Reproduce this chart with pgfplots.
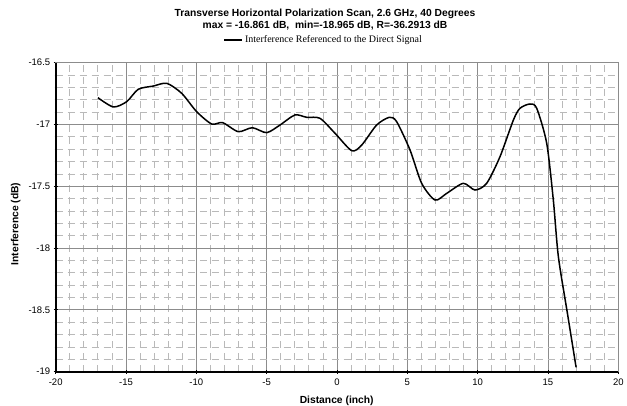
\documentclass[border=0pt]{standalone}
\usepackage{pgfplots}
\pgfplotsset{compat=1.18}
\usepackage{fontspec}
\setmainfont{Liberation Sans}
\newfontfamily\seriffont{Liberation Serif}
\definecolor{majgrid}{RGB}{140,140,140}
\definecolor{mingrid}{RGB}{185,185,185}
\begin{document}
\begin{tikzpicture}
\useasboundingbox (-55.7bp,-34.3bp) rectangle (571.3bp,371.7bp);
\begin{axis}[
  at={(0,0)}, anchor=south west,
  scale only axis,
  width=562.6bp, height=309bp,
  xmin=-20, xmax=20, ymin=-19, ymax=-16.5,
  xtick={-20,-15,...,20},
  ytick={-19,-18.5,...,-16.5},
  minor xtick={-20,-19,...,20},
  minor ytick={-19,-18.9,...,-16.5},
  grid=both,
  major grid style={majgrid, line width=0.8bp},
  minor grid style={mingrid, line width=0.8bp, dash pattern=on 7bp off 5bp},
  axis line style={majgrid, line width=0.8bp},
  tick style={black, line width=0.8bp},
  major tick length=4bp, minor tick length=2bp,
  xtick pos=bottom, ytick pos=left,
  tick align=center,
  /pgf/number format/assume math mode=true,
  yticklabel style={/pgf/number format/.cd, fixed, precision=1},
  ticklabel style={font=\fontsize{9.5bp}{11bp}\selectfont},
  xticklabel style={yshift=-2bp},
  legend style={at={(axis description cs:0.298,1.0735)}, anchor=west, draw=none, fill=none,
    font=\seriffont\fontsize{10bp}{12bp}\selectfont, inner sep=0pt},
  legend image code/.code={\draw[black, line width=1.5bp] (0bp,0bp) -- (18bp,0bp);},
  clip=false,
]
\addplot[black, line width=1.5bp, smooth, tension=0.45] coordinates {
(-17,-16.783) (-15.9,-16.858) (-14.95,-16.815) (-14.13,-16.715) (-13.06,-16.689)
(-12.1,-16.667) (-11.04,-16.748) (-9.98,-16.896) (-8.91,-16.996) (-8.13,-16.985)
(-7.02,-17.058) (-6.02,-17.026) (-5.0,-17.066) (-4.05,-17.004) (-2.99,-16.923)
(-2.15,-16.942) (-1.21,-16.95) (-0.14,-17.071) (1.05,-17.212) (1.76,-17.166)
(2.82,-17.004) (3.72,-16.942) (4.24,-16.977) (5.19,-17.206) (6.02,-17.476)
(6.97,-17.611) (7.8,-17.557) (8.98,-17.476) (9.81,-17.53) (10.64,-17.476)
(11.59,-17.26) (12.54,-16.964) (13.01,-16.869) (13.72,-16.834) (14.2,-16.869)
(14.91,-17.152) (15.38,-17.611) (15.74,-18.07) (16.4,-18.54) (17,-18.965)
};
\addlegendentry{Interference Referenced to the Direct Signal}
\draw[black, line width=1.6bp] (rel axis cs:0,1) -- (rel axis cs:0,0) -- (rel axis cs:1,0);
\end{axis}
\node[font=\bfseries\fontsize{10.3bp}{12bp}\selectfont] at (269.3bp,357.7bp) {Transverse Horizontal Polarization Scan, 2.6 GHz, 40 Degrees};
\node[font=\bfseries\fontsize{10.3bp}{12bp}\selectfont] at (269.3bp,346.2bp) {max = -16.861 dB,\ \ min=-18.965 dB, R=-36.2913 dB};
\node[font=\bfseries\fontsize{10.3bp}{12bp}\selectfont] at (281bp,-29.3bp) {Distance (inch)};
\node[font=\bfseries\fontsize{10.3bp}{12bp}\selectfont, rotate=90] at (-40bp,147.7bp) {Interference (dB)};
\end{tikzpicture}
\end{document}
